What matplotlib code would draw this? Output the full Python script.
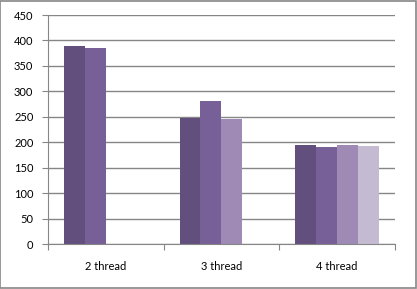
import matplotlib.pyplot as plt
from matplotlib.patches import Rectangle
import numpy as np

categories = ["2 thread", "3 thread", "4 thread"]
series1 = [389, 247, 194]
series2 = [385, 281, 190]
series3 = [np.nan, 245, 194]
series4 = [np.nan, np.nan, 192]
colors = ["#624F7E", "#775F97", "#9E8AB5", "#C4BBD3"]

plt.rcParams["font.family"] = ["Lato", "DejaVu Sans"]

fig = plt.figure(figsize=(4.17, 2.89), dpi=100)
ax = fig.add_axes([0.1151, 0.1557, 0.9472 - 0.1151, 0.948 - 0.1557])

x = np.arange(len(categories))
width = 0.1815
all_series = [series1, series2, series3, series4]
for i, vals in enumerate(all_series):
    offset = (i - 1.5) * width
    ax.bar(x + offset, vals, width, color=colors[i], zorder=3)

ax.set_xlim(-0.5, len(categories) - 0.5)
ax.set_ylim(0, 450)
ax.set_yticks(np.arange(0, 451, 50))
ax.yaxis.grid(True, color="#868686", linewidth=1, zorder=0)

ax.set_xticks(np.arange(-0.5, len(categories), 1.0))
ax.set_xticklabels([])
ax.set_xticks(x, minor=True)
ax.set_xticklabels(categories, minor=True)
ax.tick_params(axis="x", which="major", length=4, color="#868686")
ax.tick_params(axis="x", which="minor", length=0, pad=12, labelsize=8)
ax.tick_params(axis="y", length=4, color="#868686", pad=6.5, labelsize=8)

for side in ["top", "right"]:
    ax.spines[side].set_visible(False)
for side in ["left", "bottom"]:
    ax.spines[side].set_color("#868686")
    ax.spines[side].set_zorder(4)

fig.patches.append(Rectangle((0.001, 0.002), 0.997, 0.995, transform=fig.transFigure,
                             fill=False, edgecolor="#868686", linewidth=1.2))

fig.savefig("out.png", dpi=100)
